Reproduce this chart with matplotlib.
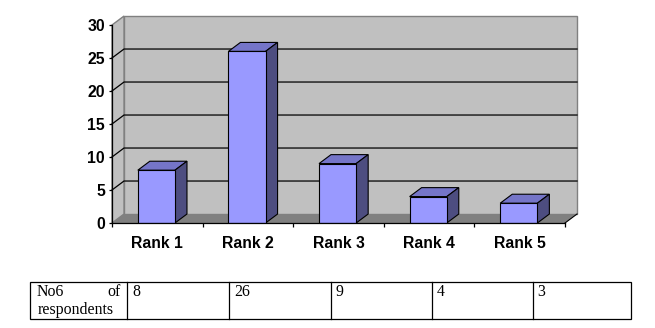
import numpy as np
import matplotlib.pyplot as plt
from matplotlib.patches import Polygon, Rectangle

categories = ['Rank 1', 'Rank 2', 'Rank 3', 'Rank 4', 'Rank 5']
respondents = [8, 26, 9, 4, 3]
y_ticks = [0, 5, 10, 15, 20, 25, 30]
row_label = ['No6', 'of', 'respondents']

W, H = 655, 328
fig = plt.figure(figsize=(W / 100, H / 100), dpi=100)

# front plane of the pseudo-3D box, in pixel placement
ax = fig.add_axes([112 / W, 1 - 223 / H, 453 / W, 198 / H])
n = len(categories)
ax.set_xlim(0, n)
ax.set_ylim(0, 30)
dx, dy = 0.1325, 1.36   # depth of the box in data units

wall = '#c0c0c0'
floor = '#808080'
edge_gray = '#808080'

# back wall and side wall
ax.add_patch(Polygon([(dx, dy), (n + dx, dy), (n + dx, 30 + dy), (dx, 30 + dy)],
                     closed=True, facecolor=wall, edgecolor=edge_gray, lw=1.0,
                     zorder=0, clip_on=False))
ax.add_patch(Polygon([(0, 0), (dx, dy), (dx, 30 + dy), (0, 30)],
                     closed=True, facecolor=wall, edgecolor=edge_gray, lw=1.0,
                     zorder=0, clip_on=False))

# gridlines
for t in y_ticks[1:-1]:
    ax.plot([0, dx, n + dx], [t, t + dy, t + dy], color='black', lw=0.9,
            zorder=1, clip_on=False)

# floor
ax.add_patch(Polygon([(0, 0), (n, 0), (n + dx, dy), (dx, dy)], closed=True,
                     facecolor=floor, edgecolor='none', zorder=2, clip_on=False))
ax.plot([n, n + dx], [0, dy], color='black', lw=0.8, zorder=2, clip_on=False)

# bars
xs = np.arange(n) + 0.49
bw = 0.41
ax.bar(xs, respondents, width=bw, color='#9999ff', edgecolor='black',
       linewidth=0.8, zorder=4)
for x, v in zip(xs, respondents):
    l, r = x - bw / 2, x + bw / 2
    ax.add_patch(Polygon([(l, v), (r, v), (r + dx, v + dy), (l + dx, v + dy)],
                         closed=True, facecolor='#7575c8', edgecolor='black',
                         lw=0.8, zorder=3, clip_on=False))
    ax.add_patch(Polygon([(r, 0), (r + dx, dy), (r + dx, v + dy), (r, v)],
                         closed=True, facecolor='#4d4d80', edgecolor='black',
                         lw=0.8, zorder=3, clip_on=False))

ax.patch.set_visible(False)
for s in ['top', 'right']:
    ax.spines[s].set_visible(False)
for s in ['left', 'bottom']:
    ax.spines[s].set_color('black')
    ax.spines[s].set_linewidth(0.9)
    ax.spines[s].set_zorder(5)

ax.set_yticks(y_ticks)
ax.set_yticklabels([str(t) for t in y_ticks])
ax.set_xticks(np.arange(n + 1), minor=True)
ax.set_xticks(np.arange(n) + 0.5)
ax.set_xticklabels(categories)
ax.tick_params(axis='x', which='major', length=0, pad=9)
ax.tick_params(axis='x', which='minor', length=3, width=0.9, direction='out')
ax.tick_params(axis='y', length=2.5, width=0.9, direction='out', pad=2.5)
for lab in ax.get_xticklabels() + ax.get_yticklabels():
    lab.set_fontfamily('Liberation Sans')
    lab.set_fontweight('bold')
    lab.set_fontsize(11.3)

# table below the chart
tab = fig.add_axes([0, 0, 1, 1])
tab.set_xlim(0, W)
tab.set_ylim(H, 0)
tab.axis('off')
tab.patch.set_visible(False)
col_edges = [29.5, 127, 229, 330.5, 431.5, 532.5, 631]
top, bot = 282, 319
tab.add_patch(Rectangle((col_edges[0], top), col_edges[-1] - col_edges[0], bot - top,
                        fill=False, edgecolor='black', lw=0.9))
for xe in col_edges[1:-1]:
    tab.plot([xe, xe], [top, bot], color='black', lw=0.9)

serif = dict(fontfamily='Liberation Serif', fontsize=11.4, color='black')
tab.text(col_edges[0] + 7, 295.5, row_label[0], ha='left', va='baseline', **serif)
tab.text(col_edges[1] - 6, 295.5, row_label[1], ha='right', va='baseline', **serif)
tab.text(col_edges[0] + 8, 313.5, row_label[2], ha='left', va='baseline', **serif)
for xe, v in zip(col_edges[1:-1], respondents):
    tab.text(xe + 5, 295.5, str(v), ha='left', va='baseline', **serif)

fig.savefig('out.png', dpi=100)
